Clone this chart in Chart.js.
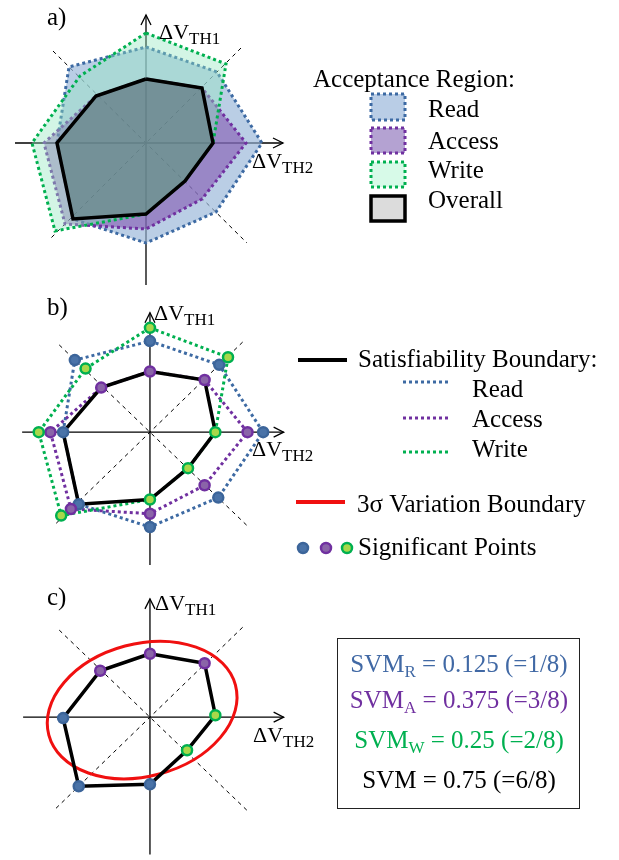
<!DOCTYPE html>
<html><head><meta charset="utf-8">
<script src="https://cdn.jsdelivr.net/npm/chart.js@4"></script>
<style>
body{margin:0;width:619px;height:860px;position:relative;background:#fff;overflow:hidden;font-family:"Liberation Serif","Times New Roman",serif;}
canvas{position:absolute;left:0;}
.t{position:absolute;white-space:nowrap;line-height:1;color:#000;}
.box{position:absolute;left:337px;top:638px;width:243px;height:171px;border:1.5px solid #222;box-sizing:border-box;}
</style></head><body>
<canvas id="ca" width="619" height="290" style="top:0"></canvas>
<canvas id="cb" width="619" height="290" style="top:290px"></canvas>
<canvas id="cc" width="619" height="280" style="top:580px"></canvas>
<div class="box"></div>
<script>
// ---------- DATA (in pixel-like units around each origin; y up) ----------
const directions = ['N','NE','E','SE','S','SW','W','NW'];
const readPts   = [[0,96],[71,71],[116,0],[70,-69],[0,-100],[-73,-76],[-89,0],[-77,76]];
const accessPts = [[0,64],[56,55],[100,0],[56,-56],[0,-86],[-81,-81],[-102,0],[-50,47]];
const writePts  = [[0,110],[80,79],[67,0],[39,-38],[0,-71],[-91,-88],[-114,0],[-66,67]];
const overallPts= [[0,64],[56,55],[67,0],[39,-38],[0,-71],[-73,-76],[-89,0],[-50,47]];
// panel c: final boundary and which requirement each significant point comes from
const boundaryPts = [[0,67],[56,57],[67,2],[38,-35],[0,-71],[-73,-73],[-89,-1],[-51,49]];
const boundaryKind = ['A','A','W','W','R','R','R','A'];
// 3-sigma ellipse: centre, semi-axes, tilt (deg)
const ellipseCenter = [-8,7.5];
const ellipseAxes = [99,70];
const ellipseTilt = [15];
// text
const svmLines = [['SVM','R',' = 0.125 (=1/8)'],['SVM','A',' = 0.375 (=3/8)'],['SVM','W',' = 0.25 (=2/8)'],['SVM','',' = 0.75 (=6/8)']];
const legendA = ['Acceptance Region:','Read','Access','Write','Overall'];
const legendB = ['Satisfiability Boundary:','Read','Access','Write','3σ Variation Boundary','Significant Points'];

// ---------- STYLE ----------
const C = {
  read:'#3d6aa3', access:'#7030a0', write:'#00b050',
  readFill:'rgba(149,179,215,0.65)', accessFill:'rgba(112,48,160,0.45)',
  writeFill:'rgba(146,230,190,0.4)', overallFill:'rgba(70,105,90,0.42)',
  ptR:['#4a73a8','#3c659a'], ptA:['#8a64a8','#7030a0'], ptW:['#a8d84a','#00b050']
};
const toXY = a => a.map(([x,y])=>({x,y}));
const closed = a => toXY(a.concat([a[0]]));

const axesPlugin = {
  id:'axesDeco',
  beforeDatasetsDraw(chart, args, o){
    const xs=chart.scales.x, ys=chart.scales.y, ctx=chart.ctx;
    const X=v=>xs.getPixelForValue(v), Y=v=>ys.getPixelForValue(v);
    ctx.save();
    ctx.strokeStyle='#000'; ctx.lineWidth=1;
    ctx.setLineDash([4,4]);
    for(const d of [o.d1,o.d2]){ctx.beginPath();ctx.moveTo(X(d[0][0]),Y(d[0][1]));ctx.lineTo(X(d[1][0]),Y(d[1][1]));ctx.stroke();}
    ctx.setLineDash([]); ctx.lineWidth=1.3;
    ctx.beginPath();ctx.moveTo(X(o.h[0]),Y(0));ctx.lineTo(X(o.h[1]),Y(0));ctx.stroke();
    ctx.beginPath();ctx.moveTo(X(0),Y(o.v[0]));ctx.lineTo(X(0),Y(o.v[1]));ctx.stroke();
    const hx=X(o.h[1]), hy=Y(0), vx=X(0), vy=Y(o.v[1]);
    ctx.beginPath();ctx.moveTo(hx-10,hy-5);ctx.lineTo(hx,hy);ctx.lineTo(hx-10,hy+5);ctx.stroke();
    ctx.beginPath();ctx.moveTo(vx-5,vy+10);ctx.lineTo(vx,vy);ctx.lineTo(vx+5,vy+10);ctx.stroke();
    if(o.ellipse){
      ctx.strokeStyle='#f01010'; ctx.lineWidth=3;
      ctx.beginPath();
      ctx.ellipse(X(ellipseCenter[0]),Y(ellipseCenter[1]),Math.abs(X(ellipseAxes[0])-X(0)),Math.abs(Y(ellipseAxes[1])-Y(0)),-ellipseTilt[0]*Math.PI/180,0,2*Math.PI);
      ctx.stroke();
    }
    ctx.restore();
  },
  afterDraw(chart,args,o){ if(o.legend) o.legend(chart.ctx); }
};
Chart.register(axesPlugin);

function polyDs(pts, color, fillColor, order, dashed, width){
  return {data:closed(pts), showLine:true, fill: fillColor? 'shape' : false, backgroundColor: fillColor||'transparent',
    borderColor:color, borderWidth:width||3, borderDash: dashed?[3,3]:[], pointRadius:0, tension:0, order};
}
function ptDs(pts, cols, order){
  return {data:toXY(pts), showLine:false, pointRadius:5, pointBorderWidth:2.5, pointBackgroundColor:cols[0], pointBorderColor:cols[1], order};
}
function baseOpts(ymin,ymax,deco){
  return {responsive:false, animation:false, devicePixelRatio:1, layout:{padding:0},
    scales:{x:{type:'linear',min:-146,max:473,display:false}, y:{type:'linear',min:ymin,max:ymax,display:false}},
    plugins:{legend:{display:false},tooltip:{enabled:false},axesDeco:deco},
    elements:{line:{borderCapStyle:'butt',borderJoinStyle:'miter'}}};
}
const diag1=[[-93,92],[101,-100]], diag2=[[95,95],[-97,-97]];

function dotted(ctx,x1,y1,x2,y2,col,w){ctx.save();ctx.strokeStyle=col;ctx.lineWidth=w||3;ctx.setLineDash([3,3]);ctx.beginPath();ctx.moveTo(x1,y1);ctx.lineTo(x2,y2);ctx.stroke();ctx.restore();}
function swatch(ctx,x,y,w,h,fill,stroke,dash,lw){ctx.save();ctx.fillStyle=fill;ctx.fillRect(x,y,w,h);ctx.strokeStyle=stroke;ctx.lineWidth=lw;ctx.setLineDash(dash);ctx.strokeRect(x,y,w,h);ctx.restore();}
function dot(ctx,x,y,cols){ctx.save();ctx.beginPath();ctx.arc(x,y,5,0,2*Math.PI);ctx.fillStyle=cols[0];ctx.fill();ctx.lineWidth=2.5;ctx.strokeStyle=cols[1];ctx.stroke();ctx.restore();}

// ---------- Panel a ----------
new Chart(document.getElementById('ca'),{type:'scatter',
  data:{datasets:[
    polyDs(readPts,C.read,C.readFill,4,true),
    polyDs(accessPts,C.access,C.accessFill,3,true),
    polyDs(writePts,C.write,C.writeFill,2,true),
    polyDs(overallPts,'#000',C.overallFill,1,false,3.5)
  ]},
  options:baseOpts(-147,143,{h:[-131,137],v:[-142,128],d1:diag1,d2:diag2,legend:(ctx)=>{
    swatch(ctx,371,94,34,26,'rgba(185,205,230,1)',C.read,[3,3],3);
    swatch(ctx,371,128,34,25,'rgba(180,162,210,1)',C.access,[3,3],3);
    swatch(ctx,371,162,34,25,'rgba(215,250,232,1)',C.write,[3,3],3);
    swatch(ctx,371,196,34,25,'rgba(220,220,220,1)','#000',[],3.5);
  }})
});
// ---------- Panel b ----------
new Chart(document.getElementById('cb'),{type:'scatter',
  data:{datasets:[
    polyDs(readPts,C.read,null,6,true),
    polyDs(accessPts,C.access,null,5,true),
    polyDs(writePts,C.write,null,4,true),
    polyDs(overallPts,'#000',null,3,false,3.5),
    ptDs(readPts,C.ptR,2), ptDs(accessPts,C.ptA,1), ptDs(writePts,C.ptW,0)
  ]},
  options:baseOpts(-148,142,{h:[-131,137],v:[-140,126],d1:diag1,d2:diag2,legend:(ctx)=>{
    ctx.save();ctx.strokeStyle='#000';ctx.lineWidth=4;ctx.beginPath();ctx.moveTo(298,70);ctx.lineTo(347,70);ctx.stroke();
    ctx.strokeStyle='#f01010';ctx.beginPath();ctx.moveTo(296,212);ctx.lineTo(345,212);ctx.stroke();ctx.restore();
    dotted(ctx,403,92,451,92,C.read);
    dotted(ctx,403,128,451,128,C.access);
    dotted(ctx,403,162,451,162,C.write);
    dot(ctx,303,258,C.ptR);dot(ctx,326,258,C.ptA);dot(ctx,347,258,C.ptW);
  }})
});
// ---------- Panel c ----------
const kindCols = {R:C.ptR, A:C.ptA, W:C.ptW};
new Chart(document.getElementById('cc'),{type:'scatter',
  data:{datasets:[
    polyDs(boundaryPts,'#000',null,3,false,3.5),
    {data:toXY(boundaryPts), showLine:false, pointRadius:5, pointBorderWidth:2.5,
     pointBackgroundColor:boundaryKind.map(k=>kindCols[k][0]), pointBorderColor:boundaryKind.map(k=>kindCols[k][1]), order:0}
  ]},
  options:baseOpts(-143,137,{h:[-130,137],v:[-145,125],d1:diag1,d2:diag2,ellipse:true})
});

// ---------- Text ----------
function sub(main,s,extra){return main+(s?'<span style="font-size:17px;vertical-align:-5px">'+s+'</span>':'')+(extra||'');}
const dv = n => sub('ΔV','TH'+n);
const texts = [
  {h:'a)',x:47,b:25},{h:'b)',x:47,b:315},{h:'c)',x:47,b:605},
  {h:dv(1),x:159,b:39,s:22},{h:dv(2),x:252,b:168,s:22},
  {h:dv(1),x:154,b:320,s:22},{h:dv(2),x:252,b:456,s:22},
  {h:dv(1),x:155,b:610,s:22},{h:dv(2),x:253,b:742,s:22},
  {h:legendA[0],x:313,b:87},{h:legendA[1],x:428,b:117},{h:legendA[2],x:428,b:149},{h:legendA[3],x:428,b:178},{h:legendA[4],x:428,b:208},
  {h:legendB[0],x:358,b:367},{h:legendB[1],x:472,b:397},{h:legendB[2],x:472,b:427},{h:legendB[3],x:472,b:457},
  {h:legendB[4],x:357,b:512},{h:legendB[5],x:358,b:555},
];
const svmCols=['#4169a5','#7030a0','#00b050','#000'], svmBase=[672,708,748,788];
svmLines.forEach((l,i)=>texts.push({h:sub(l[0],l[1],l[2]),cx:459,b:svmBase[i],c:svmCols[i]}));
for(const t of texts){
  const d=document.createElement('div'); d.className='t';
  d.style.fontSize=(t.s||25)+'px'; if(t.c) d.style.color=t.c;
  d.innerHTML=t.h+'<span class="m" style="display:inline-block;width:0;height:0;vertical-align:baseline"></span>';
  d.style.left='0px'; d.style.top='0px';
  document.body.appendChild(d);
  const m=d.querySelector('.m').getBoundingClientRect().top;
  d.style.top=(t.b-m)+'px';
  d.style.left=(t.cx!==undefined? t.cx-d.getBoundingClientRect().width/2 : t.x)+'px';
}
</script>
</body></html>
